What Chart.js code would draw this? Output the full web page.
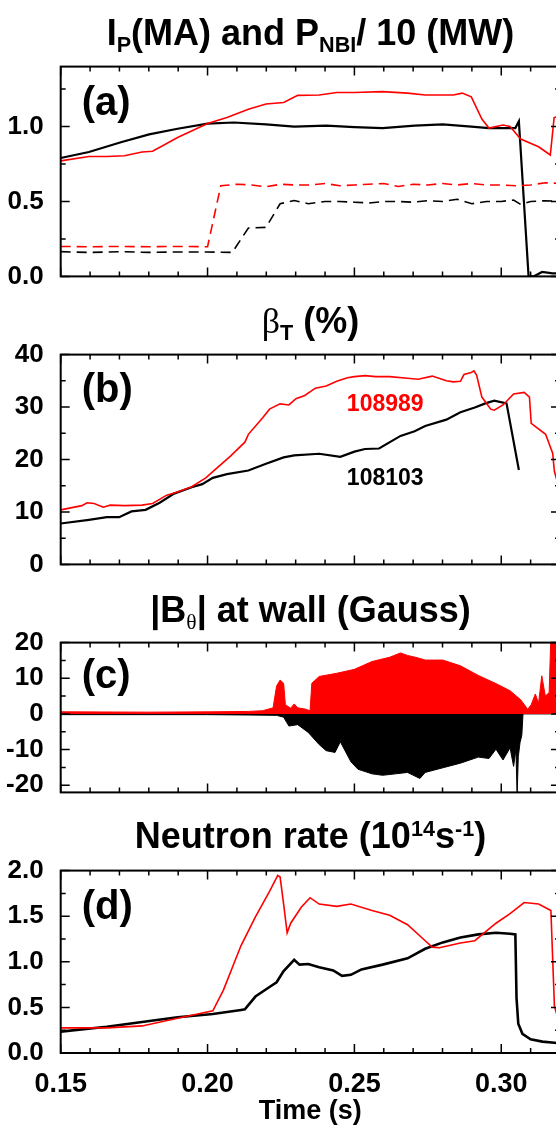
<!DOCTYPE html>
<html>
<head>
<meta charset="utf-8">
<script src="https://cdn.jsdelivr.net/npm/chart.js@4.4.1/dist/chart.umd.min.js"></script>
<style>
  html, body { margin: 0; padding: 0; background: #fff; overflow: hidden; }
  body { width: 556px; height: 1126px; position: relative; font-family: 'Liberation Sans', Arial, sans-serif; }
  canvas { position: absolute; left: 0; }
  .ttl { position: absolute; left: 61px; width: 499px; text-align: center; font-weight: bold;
         font-size: 36px; line-height: 40px; white-space: nowrap; color: #000; }
  .ttl .sb { font-size: 0.6em; position: relative; top: 0.32em; }
  .ttl .sp { font-size: 0.6em; position: relative; top: -0.55em; }
  .ttl .gk { font-family: 'Liberation Serif', 'DejaVu Serif', serif; font-weight: normal; }
</style>
</head>
<body>
<canvas id="pa"></canvas>
<canvas id="pb"></canvas>
<canvas id="pc"></canvas>
<canvas id="pd"></canvas>

<div class="ttl" style="top:13px">I<span class="sb">P</span>(MA) and P<span class="sb">NBI</span>/ 10 (MW)</div>
<div class="ttl" style="top:301px"><span class="gk">β</span><span class="sb">T</span> (%)</div>
<div class="ttl" style="top:590px">|B<span class="sb gk">θ</span>| at wall (Gauss)</div>
<div class="ttl" style="top:816px">Neutron rate (10<span class="sp">14</span>s<span class="sp">-1</span>)</div>

<script>
// --- common time axis ---
const xMin = 0.15, xMax = 0.32;
const xMajor = [0.15, 0.20, 0.25, 0.30];
const xMinor = [0.16, 0.17, 0.18, 0.19, 0.21, 0.22, 0.23, 0.24, 0.26, 0.27, 0.28, 0.29, 0.31];

// --- (a) plasma current and NBI power / 10 ---
const ipRedT = [0.150, 0.1596, 0.1657, 0.1717, 0.1777, 0.1813, 0.1898, 0.2000, 0.2066, 0.2139, 0.2199, 0.2259, 0.2307, 0.2380, 0.2440, 0.2500, 0.2596, 0.2681, 0.2741, 0.2837, 0.2867, 0.2898, 0.2934, 0.2958, 0.3006, 0.3030, 0.3066, 0.3127, 0.3167, 0.3180, 0.3200];
const ipRed  = [0.771, 0.80, 0.80, 0.805, 0.83, 0.835, 0.927, 1.02, 1.06, 1.115, 1.15, 1.16, 1.208, 1.21, 1.227, 1.227, 1.233, 1.223, 1.21, 1.21, 1.223, 1.198, 1.05, 0.99, 1.01, 1.0, 0.917, 0.865, 0.81, 1.06, 1.07];
const ipBlackT = [0.150, 0.1596, 0.1705, 0.1801, 0.1898, 0.2000, 0.2090, 0.2199, 0.2295, 0.2404, 0.2500, 0.2596, 0.2705, 0.2801, 0.2898, 0.2958, 0.3030, 0.3048, 0.3060, 0.3093, 0.3110, 0.3139, 0.3175, 0.3200];
const ipBlack  = [0.79, 0.83, 0.895, 0.948, 0.985, 1.02, 1.027, 1.015, 1.0, 1.006, 0.996, 0.99, 1.006, 1.015, 1.0, 0.99, 0.99, 0.99, 1.035, 0.0, 0.0, 0.03, 0.02, 0.02];
const nbiRedT = [0.150, 0.160, 0.170, 0.180, 0.190, 0.2000, 0.2045, 0.2100, 0.2150, 0.2199, 0.2250, 0.2300, 0.2350, 0.2400, 0.2450, 0.2500, 0.2550, 0.2600, 0.2650, 0.2700, 0.2750, 0.2800, 0.2850, 0.2900, 0.2950, 0.3000, 0.3050, 0.3100, 0.3150, 0.3200];
const nbiRed  = [0.20, 0.198, 0.20, 0.198, 0.20, 0.198, 0.605, 0.615, 0.61, 0.598, 0.615, 0.61, 0.61, 0.62, 0.605, 0.61, 0.615, 0.62, 0.60, 0.615, 0.61, 0.62, 0.61, 0.62, 0.61, 0.61, 0.605, 0.61, 0.625, 0.62];
const nbiBlackT = [0.150, 0.160, 0.170, 0.180, 0.190, 0.200, 0.2084, 0.2139, 0.2199, 0.2247, 0.2295, 0.2343, 0.2400, 0.2450, 0.2500, 0.2550, 0.2600, 0.2650, 0.2700, 0.2750, 0.2801, 0.2850, 0.2900, 0.2950, 0.3000, 0.3042, 0.3066, 0.3100, 0.3150, 0.3200];
const nbiBlack  = [0.165, 0.16, 0.165, 0.16, 0.163, 0.163, 0.16, 0.323, 0.327, 0.485, 0.506, 0.485, 0.50, 0.50, 0.495, 0.49, 0.50, 0.50, 0.495, 0.505, 0.50, 0.515, 0.485, 0.50, 0.50, 0.51, 0.48, 0.50, 0.505, 0.50];
const aMajor = [0, 0.5, 1.0];
const aMinor = [0.25, 0.75, 1.25];

// --- (b) toroidal beta ---
const betaRedT = [0.150, 0.1572, 0.1590, 0.1614, 0.1645, 0.1669, 0.1717, 0.1777, 0.1813, 0.1861, 0.1898, 0.1946, 0.1994, 0.2018, 0.2078, 0.2127, 0.2139, 0.2187, 0.2211, 0.2247, 0.2277, 0.2301, 0.2331, 0.2367, 0.2404, 0.2440, 0.2476, 0.2500, 0.2536, 0.2572, 0.2620, 0.2681, 0.2717, 0.2765, 0.2813, 0.2837, 0.2861, 0.2873, 0.2898, 0.2907, 0.2916, 0.2934, 0.2964, 0.2976, 0.3006, 0.3042, 0.3078, 0.3096, 0.3102, 0.3151, 0.3175, 0.3181, 0.3200];
const betaRed  = [10.4, 11.2, 11.75, 11.6, 10.9, 11.3, 11.2, 11.3, 11.6, 13.2, 13.8, 14.8, 16.5, 17.7, 20.65, 23.3, 24.8, 27.9, 29.6, 30.6, 30.4, 31.6, 32.2, 33.6, 34.0, 34.9, 35.6, 35.8, 36.0, 35.8, 35.8, 35.5, 35.3, 35.9, 35.0, 34.8, 34.9, 36.2, 36.6, 36.9, 36.1, 31.9, 29.6, 29.4, 30.4, 32.5, 32.8, 31.9, 26.9, 24.8, 21.2, 17.7, 14];
const betaBlackT = [0.150, 0.1596, 0.1657, 0.1699, 0.1741, 0.1789, 0.1837, 0.1886, 0.1946, 0.1982, 0.2018, 0.2066, 0.2139, 0.2199, 0.2259, 0.2295, 0.2380, 0.2452, 0.2500, 0.2536, 0.2584, 0.2657, 0.2705, 0.2741, 0.2813, 0.2861, 0.2910, 0.2946, 0.2976, 0.3018, 0.3060];
const betaBlack  = [7.8, 8.5, 9.0, 9.0, 10.1, 10.4, 11.75, 13.5, 14.7, 15.3, 16.5, 17.2, 17.9, 19.2, 20.4, 20.8, 21.1, 20.5, 21.5, 22.0, 22.1, 24.5, 25.4, 26.4, 27.6, 29.0, 29.9, 30.7, 31.2, 30.7, 18.0];
const bMajor = [0, 10, 20, 30, 40];
const bMinor = [5, 15, 25, 35];

// --- (c) |B_theta| at wall, envelopes ---
const bwRedT = [0.150, 0.180, 0.2018, 0.2139, 0.2187, 0.2223, 0.2235, 0.2247, 0.2259, 0.2265, 0.2283, 0.2295, 0.2307, 0.2331, 0.2349, 0.2355, 0.2380, 0.2440, 0.2500, 0.2560, 0.2620, 0.2657, 0.2681, 0.2717, 0.2741, 0.2801, 0.2861, 0.2922, 0.2982, 0.3030, 0.3066, 0.3090, 0.3102, 0.3116, 0.3127, 0.3138, 0.3150, 0.3163, 0.3169, 0.3200];
const bwRed  = [0.6, 0.5, 0.6, 0.7, 0.9, 1.7, 7.8, 9.5, 8.6, 2.6, 1.6, 2.8, 1.7, 1.4, 0.9, 8.6, 10.5, 11.4, 12.5, 14.7, 15.9, 17.1, 16.4, 15.7, 15.1, 15.1, 13.5, 10.8, 8.5, 6.5, 4.0, 1.3, 2.6, 5.6, 3.0, 10.7, 5.0, 6.0, 22, 22];
const bwBlackT = [0.150, 0.2000, 0.2139, 0.2235, 0.2259, 0.2277, 0.2307, 0.2343, 0.2380, 0.2404, 0.2434, 0.2452, 0.2488, 0.2512, 0.2560, 0.2596, 0.2640, 0.2681, 0.2723, 0.2741, 0.2801, 0.2861, 0.2922, 0.2958, 0.2982, 0.3006, 0.3030, 0.3042, 0.3050, 0.3054, 0.3058, 0.3064, 0.3070, 0.3074, 0.3200];
const bwBlack  = [-0.2, -0.2, -0.3, -0.4, -0.9, -3.4, -3.0, -5.2, -8.6, -10.3, -10.8, -7.8, -13.4, -15.5, -16.8, -17.2, -16.8, -16.4, -18.1, -16.4, -15.1, -13.8, -12.1, -12.5, -9.9, -12.9, -9.5, -14.7, -10, -23, -12, -8, -6, 0, 0];
const cMajor = [-20, -10, 0, 10, 20];
const cMinor = [-15, -5, 5, 15];

// --- (d) neutron rate ---
const nRedT = [0.150, 0.1657, 0.1777, 0.1898, 0.2018, 0.2054, 0.2114, 0.2163, 0.2211, 0.2239, 0.2247, 0.2259, 0.2271, 0.2283, 0.2319, 0.2349, 0.2380, 0.2440, 0.2488, 0.2560, 0.2620, 0.2681, 0.2741, 0.2765, 0.2789, 0.2861, 0.2910, 0.2982, 0.3030, 0.3078, 0.3127, 0.3169, 0.3181, 0.3200];
const nRed  = [0.276, 0.276, 0.297, 0.381, 0.462, 0.689, 1.178, 1.493, 1.773, 1.948, 1.93, 1.633, 1.318, 1.423, 1.598, 1.703, 1.633, 1.608, 1.633, 1.563, 1.51, 1.406, 1.231, 1.161, 1.154, 1.206, 1.231, 1.423, 1.528, 1.650, 1.633, 1.563, 0.514, 0.3];
const nBlackT = [0.150, 0.1657, 0.1777, 0.1898, 0.2018, 0.2114, 0.2127, 0.2163, 0.2211, 0.2235, 0.2259, 0.2295, 0.2313, 0.2343, 0.2380, 0.2428, 0.2458, 0.2488, 0.2524, 0.2596, 0.2681, 0.2741, 0.2801, 0.2861, 0.2922, 0.2982, 0.3030, 0.3048, 0.3052, 0.3058, 0.3072, 0.3100, 0.3140, 0.3181, 0.3200];
const nBlack  = [0.234, 0.287, 0.339, 0.392, 0.427, 0.472, 0.479, 0.619, 0.724, 0.776, 0.899, 1.021, 0.969, 0.976, 0.941, 0.906, 0.846, 0.857, 0.916, 0.969, 1.038, 1.143, 1.213, 1.266, 1.301, 1.318, 1.308, 1.30, 0.60, 0.32, 0.21, 0.15, 0.125, 0.112, 0.105];
const dMajor = [0, 0.5, 1.0, 1.5, 2.0];
const dMinor = [0.25, 0.75, 1.25, 1.75];

const RED = '#ff0000', BLACK = '#000000';
const FONT = "'Liberation Sans', Arial, sans-serif";
const pts = (ts, vs) => ts.map((t, i) => ({ x: t, y: vs[i] }));

// box round the plot with inward ticks on all four sides
const framePlugin = {
  id: 'frame',
  afterDatasetsDraw(chart, args, o) {
    const { ctx, chartArea: a, scales: { x, y } } = chart;
    ctx.save();
    ctx.strokeStyle = '#000';
    ctx.lineWidth = 1.5;
    const vert = (vals, len) => vals.forEach(v => {
      const px = x.getPixelForValue(v);
      ctx.beginPath();
      ctx.moveTo(px, a.bottom); ctx.lineTo(px, a.bottom - len);
      ctx.moveTo(px, a.top); ctx.lineTo(px, a.top + len);
      ctx.stroke();
    });
    const horz = (vals, len) => vals.forEach(v => {
      const py = y.getPixelForValue(v);
      ctx.beginPath();
      ctx.moveTo(a.left, py); ctx.lineTo(a.left + len, py);
      ctx.moveTo(a.right, py); ctx.lineTo(a.right - len, py);
      ctx.stroke();
    });
    vert(o.xMajor, 9); vert(o.xMinor, 5);
    horz(o.yMajor, 9); horz(o.yMinor, 5);
    ctx.lineWidth = 2;
    ctx.strokeRect(a.left, a.top, a.right - a.left, a.bottom - a.top);
    ctx.restore();
  }
};

// panel letters and shot numbers
const tagPlugin = {
  id: 'tags',
  afterDraw(chart, args, o) {
    const { ctx, chartArea: a, scales } = chart;
    (o.items || []).forEach(it => {
      ctx.save();
      ctx.font = it.font;
      ctx.fillStyle = it.color || '#000';
      ctx.textAlign = it.align || 'left';
      ctx.textBaseline = 'middle';
      const px = it.dx !== undefined ? a.left + it.dx : scales.x.getPixelForValue(it.x);
      const py = it.dy !== undefined ? a.top + it.dy : scales.y.getPixelForValue(it.y);
      ctx.fillText(it.text, px, py);
      ctx.restore();
    });
  }
};

function panel(id, areaTop, areaH, xAxisH, cfg) {
  const cv = document.getElementById(id);
  cv.width = 600;
  cv.height = 15 + areaH + xAxisH;
  cv.style.top = (areaTop - 15) + 'px';
  const showX = !!cfg.showX;
  return new Chart(cv, {
    type: 'line',
    data: { datasets: cfg.datasets },
    options: {
      responsive: false,
      animation: false,
      devicePixelRatio: 1,
      layout: { autoPadding: false, padding: { left: 0, right: 40, top: 15, bottom: 0 } },
      elements: { point: { radius: 0 }, line: { tension: 0 } },
      plugins: {
        legend: { display: false },
        tooltip: { enabled: false },
        frame: { xMajor, xMinor, yMajor: cfg.yMajor, yMinor: cfg.yMinor },
        tags: { items: cfg.tags }
      },
      scales: {
        x: {
          type: 'linear', min: xMin, max: xMax,
          grid: { display: false }, border: { display: false },
          afterBuildTicks: s => { s.ticks = xMajor.map(v => ({ value: v })); },
          afterFit: s => { s.height = xAxisH; },
          ticks: {
            display: showX, autoSkip: false, maxRotation: 0, padding: 7, color: '#000',
            font: { family: FONT, size: 27, weight: 'bold' },
            callback: v => Number(v).toFixed(2)
          },
          title: {
            display: showX, text: 'Time (s)', color: '#000', padding: { top: 0, bottom: 0 },
            font: { family: FONT, size: 27, weight: 'bold' }
          }
        },
        y: {
          type: 'linear', min: cfg.yMin, max: cfg.yMax,
          grid: { display: false }, border: { display: false },
          afterBuildTicks: s => { s.ticks = cfg.yMajor.map(v => ({ value: v })); },
          afterFit: s => { s.width = 60.7; },
          ticks: {
            padding: 9, color: '#000', autoSkip: false,
            font: { family: FONT, size: 26, weight: 'bold' },
            callback: cfg.fmt
          }
        }
      }
    },
    plugins: [framePlugin, tagPlugin]
  });
}

const letterFont = 'bold 40px ' + FONT;

panel('pa', 57, 224, 20, {
  yMin: 0, yMax: 1.4, yMajor: aMajor, yMinor: aMinor,
  fmt: v => Number(v).toFixed(1),
  datasets: [
    { data: pts(ipRedT, ipRed), borderColor: RED, borderWidth: 1.6 },
    { data: pts(nbiRedT, nbiRed), borderColor: RED, borderWidth: 1.6, borderDash: [10, 6] },
    { data: pts(ipBlackT, ipBlack), borderColor: BLACK, borderWidth: 2.2 },
    { data: pts(nbiBlackT, nbiBlack), borderColor: BLACK, borderWidth: 1.6, borderDash: [10, 6] }
  ],
  tags: [{ text: '(a)', dx: 21, dy: 37, font: letterFont }]
});

panel('pb', 345, 224, 20, {
  yMin: 0, yMax: 40, yMajor: bMajor, yMinor: bMinor,
  fmt: v => String(v),
  datasets: [
    { data: pts(betaRedT, betaRed), borderColor: RED, borderWidth: 1.6 },
    { data: pts(betaBlackT, betaBlack), borderColor: BLACK, borderWidth: 2.2 }
  ],
  tags: [
    { text: '(b)', dx: 21, dy: 36, font: letterFont },
    { text: '108989', x: 0.2605, y: 30.5, align: 'center', color: RED, font: 'bold 23px ' + FONT },
    { text: '108103', x: 0.2605, y: 16.3, align: 'center', color: BLACK, font: 'bold 23px ' + FONT }
  ]
});

panel('pc', 633, 164, 20, {
  yMin: -22, yMax: 20, yMajor: cMajor, yMinor: cMinor,
  fmt: v => String(v),
  datasets: [
    { data: pts(bwRedT, bwRed), borderColor: RED, backgroundColor: RED, borderWidth: 1, fill: 'origin' },
    { data: pts(bwBlackT, bwBlack), borderColor: BLACK, backgroundColor: BLACK, borderWidth: 1, fill: 'origin' }
  ],
  tags: [{ text: '(c)', dx: 21, dy: 34, font: letterFont }]
});

panel('pd', 861, 192, 75, {
  showX: true,
  yMin: 0, yMax: 2.0, yMajor: dMajor, yMinor: dMinor,
  fmt: v => Number(v).toFixed(1),
  datasets: [
    { data: pts(nRedT, nRed), borderColor: RED, borderWidth: 1.6 },
    { data: pts(nBlackT, nBlack), borderColor: BLACK, borderWidth: 2.6 }
  ],
  tags: [{ text: '(d)', dx: 21, dy: 37, font: letterFont }]
});
</script>
</body>
</html>
